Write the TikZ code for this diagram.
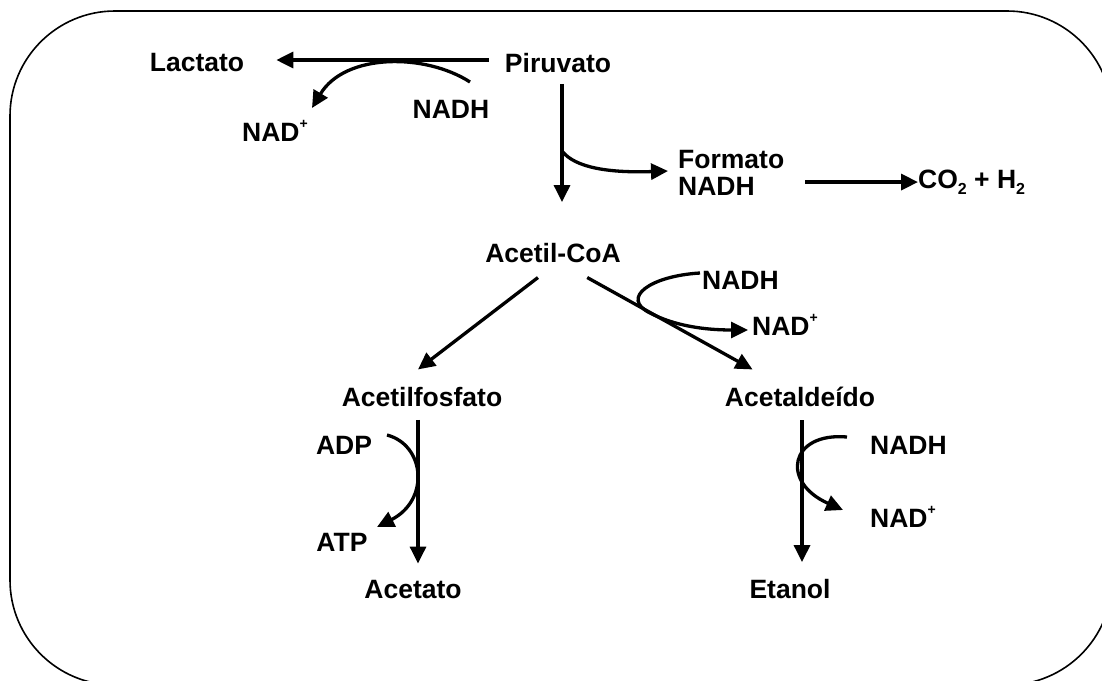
\documentclass[tikz,border=0pt]{standalone}
\usepackage{fontspec}
\setmainfont{Liberation Sans}
\usepackage{tikz}
\usetikzlibrary{arrows.meta}

\newcommand{\plus}{\raisebox{0.5em}{\fontsize{14}{14}\selectfont +}}
\newcommand{\two}{\raisebox{-0.25em}{\fontsize{16}{16}\selectfont 2}}

\begin{document}
\begin{tikzpicture}[x=1pt, y=-1pt,
    lbl/.style={inner sep=0pt, font=\fontsize{26.5}{27}\selectfont\bfseries},
    arr/.style={line width=3.3pt, -{Triangle[length=17pt,width=16pt]}},
    curl/.style={line width=3.3pt, -{Triangle[length=17pt,width=16pt]}}]
    \useasboundingbox (0,0) rectangle (1102,680);
    \begin{scope}
    \clip (0,0) rectangle (1102,680);
    \draw[line width=1.6pt, rounded corners=105pt] (10,11) rectangle (1112,685);
    \end{scope}
    % fermentation products
    \node[lbl] (pir) at (558,63) {Piruvato};
    \node[lbl] (lac) at (197,63) {Lactato};
    \node[lbl] (nadA) at (275,131) {NAD\plus};
    \node[lbl] (nadhA) at (451,109) {NADH};
    \node[lbl, align=left, anchor=west] (form) at (678,173) {Formato\\NADH};
    \node[lbl, anchor=base west] (co2) at (918,188) {CO\two{} + H\two};
    \node[lbl] (acoa) at (553,253) {Acetil-CoA};
    \node[lbl, anchor=west] (nadhB) at (702,280) {NADH};
    \node[lbl, anchor=west] (nadB) at (752,325) {NAD\plus};
    \node[lbl] (afos) at (422,397) {Acetilfosfato};
    \node[lbl] (aald) at (800,397) {Acetaldeído};
    \node[lbl] (adp) at (344,445) {ADP};
    \node[lbl] (atp) at (342,542) {ATP};
    \node[lbl] (acet) at (413,590) {Acetato};
    \node[lbl] (etan) at (790,589) {Etanol};
    \node[lbl, anchor=west] (nadhC) at (870,445) {NADH};
    \node[lbl, anchor=west] (nadC) at (870,517) {NAD\plus};
    % main arrows
    \draw[arr, shorten <=16pt, shorten >=32pt] ([yshift=3pt]pir.west) -- ([yshift=3pt]lac.east);
    \draw[arr, shorten <=11pt, shorten >=41pt] ([xshift=4pt]pir.south) -- ([xshift=9pt]acoa.north);
    \draw[arr, shorten <=21pt] (co2.west -| form.east) -- (co2.west);
    \draw[arr, shorten <=24pt, shorten >=29pt] ([xshift=4pt]acoa.south) -- ([xshift=-27pt]afos.north);
    \draw[arr, shorten <=30pt, shorten >=36pt] ([xshift=8pt]acoa.south) -- ([xshift=-16pt]aald.north);
    \draw[arr, shorten <=13pt, shorten >=17pt] ([xshift=-4pt]afos.south) -- ([xshift=5pt]acet.north);
    \draw[arr, shorten <=13pt, shorten >=17pt] ([xshift=2pt]aald.south) -- ([xshift=12pt]etan.north);
    % cofactor curls
    \draw[curl] (470,82) .. controls (425,53) and (345,53) .. (312,108);
    \draw[curl] (562,151) .. controls (575,168) and (610,173) .. (668,171);
    \draw[curl] (700,273) .. controls (650,276) and (620,298) .. (650,313)
        .. controls (675,326) and (705,330) .. (748,330);
    \draw[curl] (387,435) .. controls (425,445) and (430,500) .. (377,527);
    \draw[curl] (847,437) .. controls (790,432) and (780,482) .. (843,510);
\end{tikzpicture}
\end{document}
